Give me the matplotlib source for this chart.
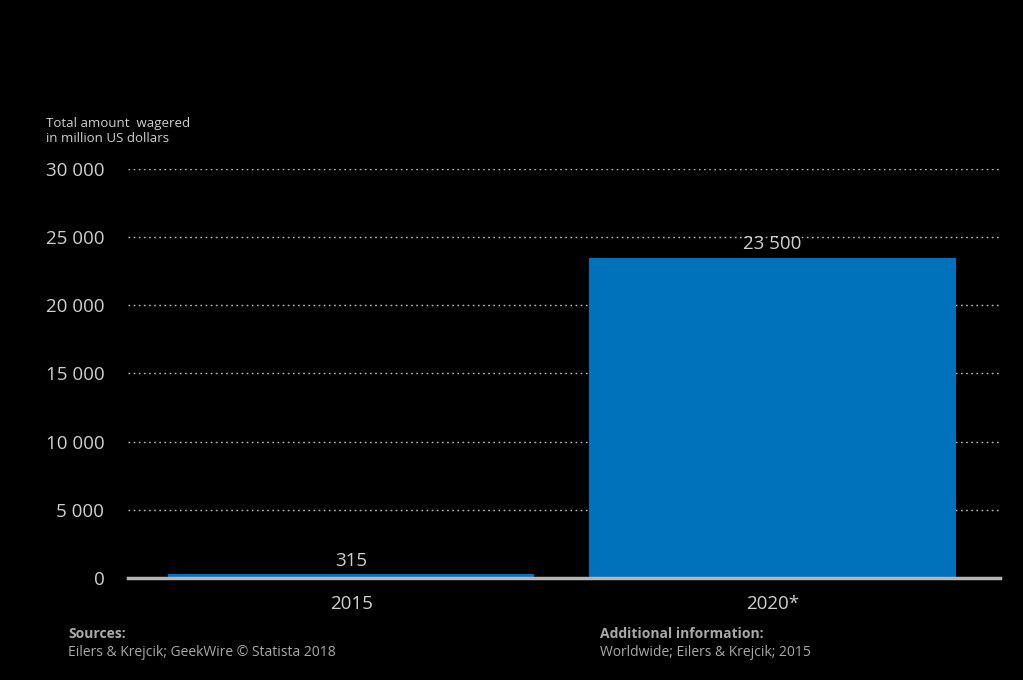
import matplotlib
matplotlib.use("Agg")
import matplotlib.pyplot as plt
from matplotlib.ticker import FuncFormatter

# ---------- data ----------
years = ["2015", "2020*"]
wagered = [315, 23500]
value_labels = ["315", "23 500"]
y_ticks = [0, 5000, 10000, 15000, 20000, 25000, 30000]

BG = "black"
BAR = "#0072bb"
TXT = "#cfcfcf"
FONT = ["Open Sans", "DejaVu Sans"]

plt.rcParams["font.family"] = FONT

fig = plt.figure(figsize=(10.23, 6.8), dpi=100, facecolor=BG)
ax = fig.add_axes([0.125, 0.15, 0.8525, 0.6015], facecolor=BG)

x = range(len(years))
ax.bar(x, wagered, width=0.87, color=BAR, zorder=3)

for xi, v, lab in zip(x, wagered, value_labels):
    ax.annotate(lab, (xi, v), xytext=(0, 3), textcoords="offset points",
                ha="center", va="bottom", color=TXT, fontsize=13.5)

ax.set_xlim(-0.53, 1.54)
ax.set_ylim(0, 30000)
ax.set_yticks(y_ticks)
ax.yaxis.set_major_formatter(FuncFormatter(lambda v, _: f"{int(v):,}".replace(",", " ")))
ax.set_xticks(list(x))
ax.set_xticklabels(years)

ax.tick_params(axis="y", length=0, pad=17, labelsize=13.5, labelcolor=TXT)
ax.tick_params(axis="x", length=0, pad=12, labelsize=13.5, labelcolor=TXT)

for s in ["top", "right", "left"]:
    ax.spines[s].set_visible(False)
ax.spines["bottom"].set_color("#b5b5b5")
ax.spines["bottom"].set_linewidth(2.5)
ax.spines["bottom"].set_zorder(4)

ax.grid(axis="y", color="#bdbdbd", linestyle=(0, (1.2, 2.5)), linewidth=1.0, zorder=0)
ax.yaxis.get_gridlines()[0].set_visible(False)

# ---------- header / footer ----------
fig.text(46 / 1023, 1 - 131 / 680, "Total amount  wagered\nin million US dollars",
         color=TXT, fontsize=9.5, ha="left", va="center", linespacing=1.25)

fig.text(68 / 1023, 1 - 634 / 680, "Sources:", color="#a8a8a8", fontsize=10,
         fontweight="bold", ha="left", va="center")
fig.text(68 / 1023, 1 - 653 / 680, "Eilers & Krejcik; GeekWire © Statista 2018",
         color="#a8a8a8", fontsize=10, ha="left", va="center")
fig.text(600 / 1023, 1 - 634 / 680, "Additional information:", color="#a8a8a8",
         fontsize=10, fontweight="bold", ha="left", va="center")
fig.text(600 / 1023, 1 - 653 / 680, "Worldwide; Eilers & Krejcik; 2015",
         color="#a8a8a8", fontsize=10, ha="left", va="center")

fig.savefig("out.png", dpi=100, facecolor=BG)
